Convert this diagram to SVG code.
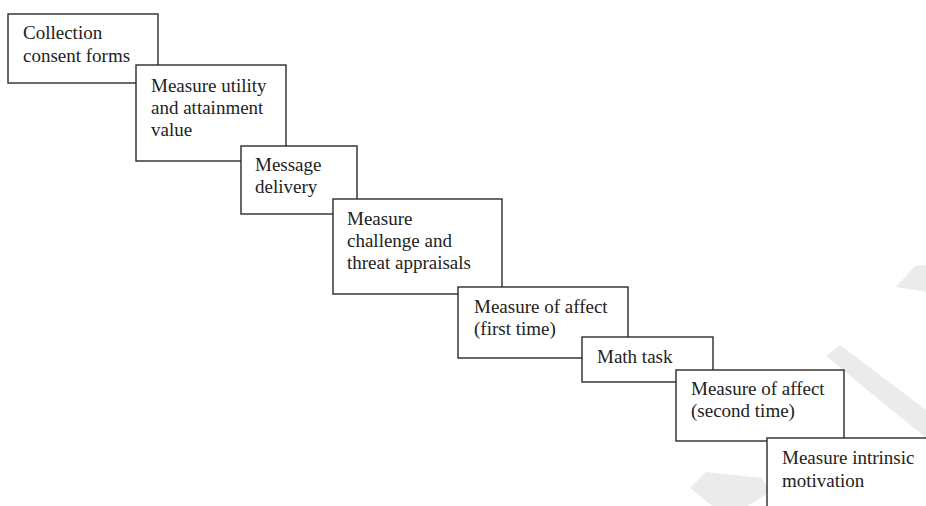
<svg xmlns="http://www.w3.org/2000/svg" width="926" height="506" viewBox="0 0 926 506">
<style>
.box{fill:#fff;stroke:#2a2a2a;stroke-width:1.4}
.t{font-family:"Liberation Serif","Times New Roman",serif;font-size:19px;fill:#222}
.wm{fill:#ebebeb}
</style>
<rect width="926" height="506" fill="#fff"/>
<g id="watermark">
<polygon class="wm" points="896,287 915,266 926,265 926,292"/>
<polygon class="wm" points="826,356 840,345 926,410 926,438"/>
<polygon class="wm" points="690,488 706,472 762,478 770,492 748,506 712,506"/>
</g>
<g id="connectors"></g>
<g id="n1"><rect class="box" x="8" y="14" width="150" height="69"/>
<text class="t" x="23" y="39">Collection</text><text class="t" x="23" y="62">consent forms</text></g>
<g id="n2"><rect class="box" x="136" y="65" width="150" height="96"/>
<text class="t" x="151" y="92">Measure utility</text><text class="t" x="151" y="114">and attainment</text><text class="t" x="151" y="136">value</text></g>
<g id="n3"><rect class="box" x="241" y="146" width="116" height="68"/>
<text class="t" x="255" y="171">Message</text><text class="t" x="255" y="193">delivery</text></g>
<g id="n4"><rect class="box" x="333" y="199" width="169" height="95"/>
<text class="t" x="347" y="225">Measure</text><text class="t" x="347" y="247">challenge and</text><text class="t" x="347" y="269">threat appraisals</text></g>
<g id="n5"><rect class="box" x="458" y="287" width="170" height="71"/>
<text class="t" x="474" y="313">Measure of affect</text><text class="t" x="474" y="335">(first time)</text></g>
<g id="n6"><rect class="box" x="582" y="337" width="131" height="45"/>
<text class="t" x="597" y="363">Math task</text></g>
<g id="n7"><rect class="box" x="676" y="370" width="168" height="71"/>
<text class="t" x="691" y="395">Measure of affect</text><text class="t" x="691" y="417">(second time)</text></g>
<g id="n8"><rect class="box" x="767" y="438" width="180" height="90"/>
<text class="t" x="782" y="464">Measure intrinsic</text><text class="t" x="782" y="487">motivation</text></g>
</svg>
